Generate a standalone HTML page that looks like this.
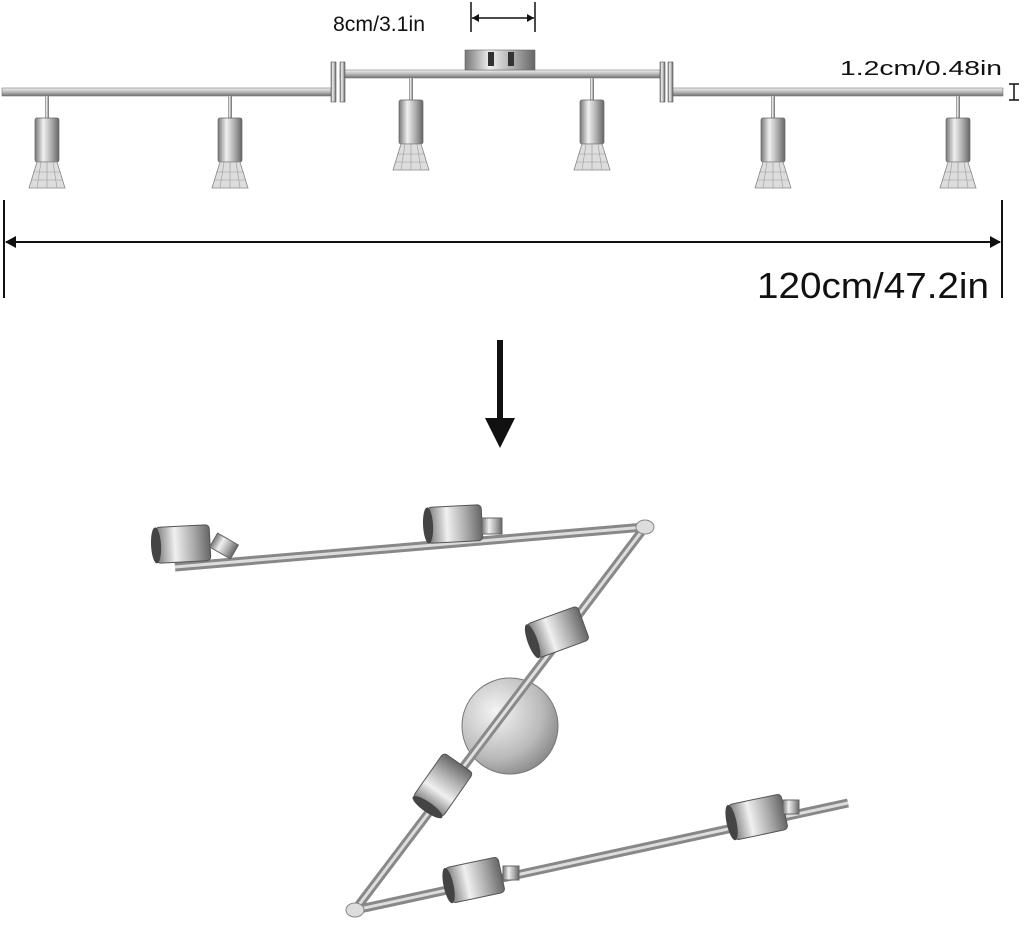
<!DOCTYPE html>
<html><head><meta charset="utf-8"><style>
html,body{margin:0;padding:0;background:#fff;}
svg{display:block;}
text{font-family:"Liberation Sans",sans-serif;fill:#111;}
</style></head><body>
<svg width="1024" height="931" viewBox="0 0 1024 931" xmlns="http://www.w3.org/2000/svg">
<defs>
<linearGradient id="metal" x1="0" y1="0" x2="0" y2="1">
<stop offset="0" stop-color="#f2f2f2"/><stop offset="0.5" stop-color="#b9b9b9"/><stop offset="1" stop-color="#6f6f6f"/>
</linearGradient>
<linearGradient id="cyl" x1="0" y1="0" x2="1" y2="0">
<stop offset="0" stop-color="#777"/><stop offset="0.35" stop-color="#f0f0f0"/><stop offset="0.7" stop-color="#aaa"/><stop offset="1" stop-color="#666"/>
</linearGradient>
<radialGradient id="disk" cx="0.35" cy="0.35" r="0.8">
<stop offset="0" stop-color="#f4f4f4"/><stop offset="0.6" stop-color="#bbb"/><stop offset="1" stop-color="#777"/>
</radialGradient>
<g id="spot">
<rect x="-2" y="0" width="4" height="22" fill="url(#cyl)"/>
<rect x="-12" y="22" width="24" height="44" rx="2" fill="url(#cyl)" stroke="#666" stroke-width="0.7"/>
<path d="M-10 66 L10 66 L18 92 L-18 92 Z" fill="#ddd" stroke="#888" stroke-width="0.8"/>
<path d="M-14 76 L14 76 M-16 84 L16 84 M-6 66 L-10 92 M6 66 L10 92 M0 66 L0 92" stroke="#999" stroke-width="0.6"/>
</g>
<g id="zcyl">
<rect x="-27" y="-18" width="54" height="36" rx="4" fill="url(#cyl)" stroke="#555" stroke-width="1"/>
<ellipse cx="-27" cy="0" rx="5" ry="18" fill="#444"/>
</g>
</defs>

<rect x="2" y="88" width="332" height="8" fill="url(#metal)" stroke="#777" stroke-width="0.6"/>
<rect x="340" y="70" width="320" height="8" fill="url(#metal)" stroke="#777" stroke-width="0.6"/>
<rect x="670" y="88" width="333" height="8" fill="url(#metal)" stroke="#777" stroke-width="0.6"/>
<rect x="331" y="62" width="5" height="40" fill="url(#cyl)" stroke="#555" stroke-width="0.6"/>
<rect x="340" y="62" width="5" height="40" fill="url(#cyl)" stroke="#555" stroke-width="0.6"/>
<rect x="660" y="62" width="5" height="40" fill="url(#cyl)" stroke="#555" stroke-width="0.6"/>
<rect x="668" y="62" width="5" height="40" fill="url(#cyl)" stroke="#555" stroke-width="0.6"/>
<rect x="465" y="50" width="70" height="20" fill="url(#cyl)" stroke="#666" stroke-width="0.6"/>
<rect x="488" y="52" width="6" height="14" fill="#333"/><rect x="508" y="52" width="6" height="14" fill="#333"/>

<use href="#spot" x="47" y="96"/>
<use href="#spot" x="230" y="96"/>
<use href="#spot" x="411" y="78"/>
<use href="#spot" x="592" y="78"/>
<use href="#spot" x="773" y="96"/>
<use href="#spot" x="958" y="96"/>

<line x1="4" y1="200" x2="4" y2="298" stroke="#111" stroke-width="2"/>
<line x1="1002" y1="200" x2="1002" y2="298" stroke="#111" stroke-width="2"/>
<line x1="6" y1="242" x2="1000" y2="242" stroke="#111" stroke-width="2"/>
<path d="M5 242 L16 236 L16 248 Z" fill="#111"/>
<path d="M1001 242 L990 236 L990 248 Z" fill="#111"/>
<text x="757" y="298" font-size="36" textLength="232" lengthAdjust="spacingAndGlyphs">120cm/47.2in</text>

<line x1="471" y1="2" x2="471" y2="32" stroke="#111" stroke-width="1.5"/>
<line x1="535" y1="2" x2="535" y2="32" stroke="#111" stroke-width="1.5"/>
<line x1="472" y1="18" x2="534" y2="18" stroke="#111" stroke-width="1.5"/>
<path d="M472 18 L479 14 L479 22 Z M534 18 L527 14 L527 22 Z" fill="#111"/>
<text x="333" y="31" font-size="21" textLength="92" lengthAdjust="spacingAndGlyphs">8cm/3.1in</text>

<text x="840" y="75" font-size="20" textLength="162" lengthAdjust="spacingAndGlyphs">1.2cm/0.48in</text>
<path d="M1009 84 L1019 84 M1014 84 L1014 100 M1009 100 L1019 100" stroke="#111" stroke-width="1.5" fill="none"/>

<line x1="500" y1="340" x2="500" y2="420" stroke="#111" stroke-width="6"/>
<path d="M485 418 L515 418 L500 448 Z" fill="#111"/>

<line x1="175" y1="567" x2="645" y2="527" stroke="#888" stroke-width="9"/>
<line x1="175" y1="567" x2="645" y2="527" stroke="#ddd" stroke-width="3"/>
<line x1="645" y1="527" x2="355" y2="910" stroke="#888" stroke-width="9"/>
<line x1="645" y1="527" x2="355" y2="910" stroke="#ddd" stroke-width="3"/>
<line x1="355" y1="910" x2="848" y2="803" stroke="#888" stroke-width="9"/>
<line x1="355" y1="910" x2="848" y2="803" stroke="#ddd" stroke-width="3"/>
<ellipse cx="645" cy="527" rx="9" ry="7" fill="#ddd" stroke="#888"/>
<ellipse cx="355" cy="910" rx="9" ry="7" fill="#ddd" stroke="#888"/>

<circle cx="510" cy="726" r="48" fill="url(#disk)" stroke="#777"/>
<line x1="595" y1="593" x2="430" y2="811" stroke="#8a8a8a" stroke-width="9"/>
<line x1="595" y1="593" x2="430" y2="811" stroke="#e0e0e0" stroke-width="3"/>

<g transform="translate(183,544) rotate(-3)"><use href="#zcyl"/></g>
<rect x="212" y="538" width="24" height="16" fill="url(#cyl)" stroke="#666" transform="rotate(30 224 546)"/>
<g transform="translate(455,524) rotate(-3)"><use href="#zcyl"/></g>
<rect x="482" y="518" width="20" height="16" fill="url(#cyl)" stroke="#666"/>
<g transform="translate(558,632) rotate(-20)"><use href="#zcyl"/></g>
<g transform="translate(443,785) rotate(-55)"><use href="#zcyl"/></g>
<g transform="translate(758,817) rotate(-12)"><use href="#zcyl"/></g>
<rect x="783" y="800" width="16" height="14" fill="url(#cyl)" stroke="#666"/>
<g transform="translate(475,880) rotate(-12)"><use href="#zcyl"/></g>
<rect x="503" y="866" width="16" height="14" fill="url(#cyl)" stroke="#666"/>
</svg>
</body></html>
